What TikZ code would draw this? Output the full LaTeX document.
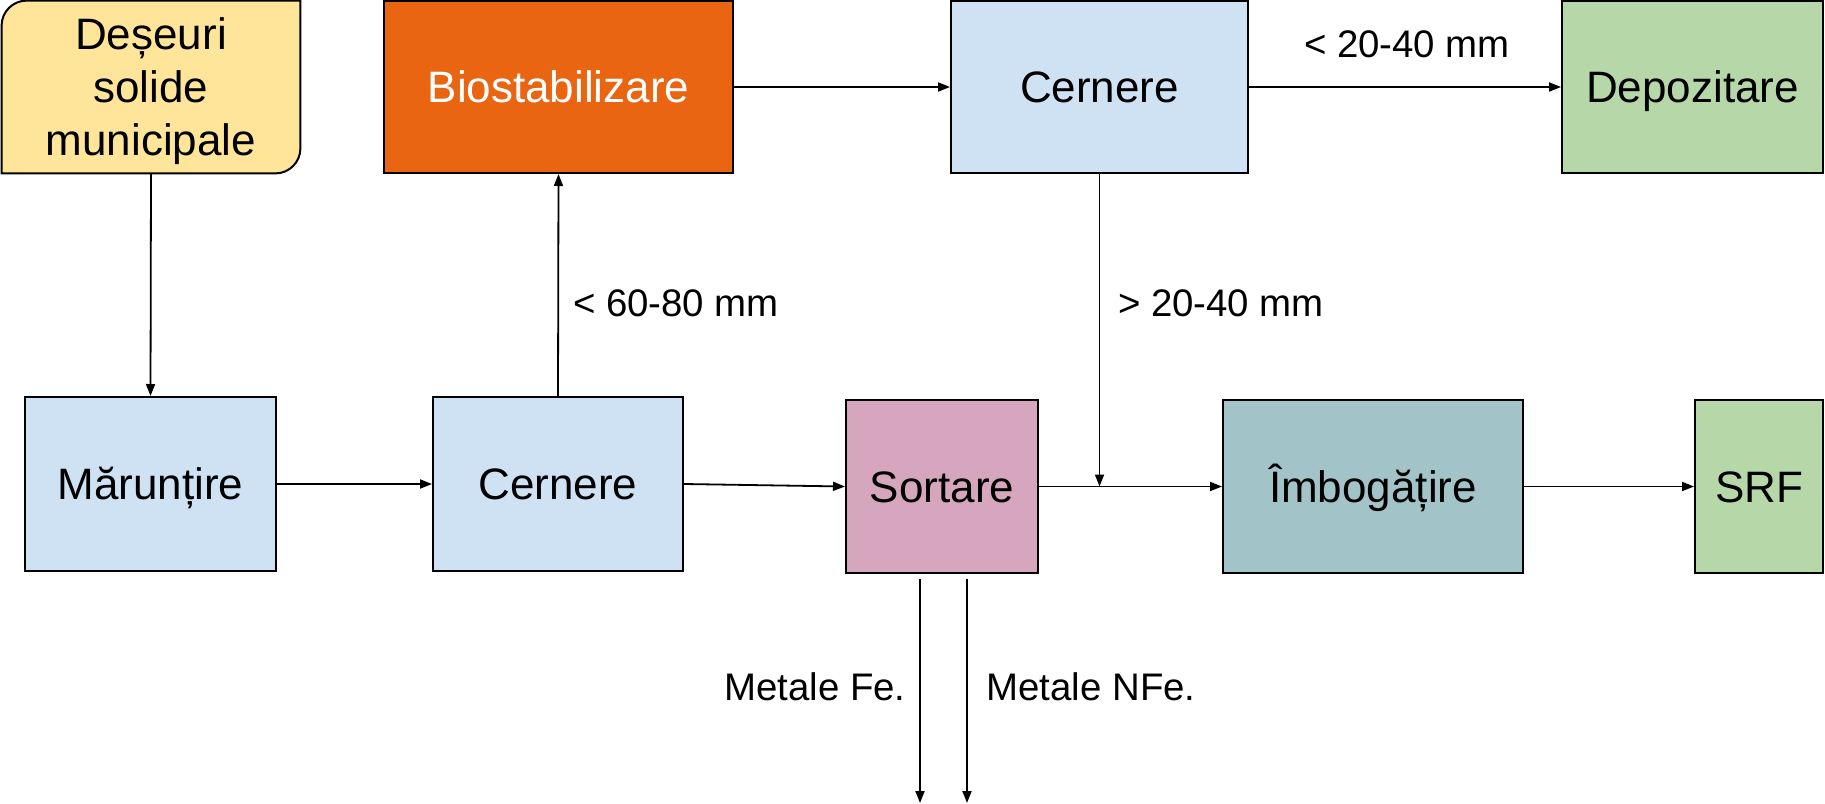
\documentclass[tikz,border=0pt]{standalone}
\usepackage{fontspec}
\setmainfont{Liberation Sans}
\usetikzlibrary{arrows.meta,backgrounds}
\definecolor{cyel}{HTML}{FFE599}
\definecolor{corg}{HTML}{E96511}
\definecolor{cblu}{HTML}{CFE2F3}
\definecolor{cgrn}{HTML}{B6D7A8}
\definecolor{cmag}{HTML}{D5A6BD}
\definecolor{ccya}{HTML}{A2C4C9}
\begin{document}
\begin{tikzpicture}[x=0.5pt,y=-0.5pt,
  box/.style={draw=black,line width=1pt,inner sep=0pt,text height=15.75pt,text depth=0pt,font=\fontsize{22}{26.5}\selectfont},
  lbl/.style={inner sep=0pt,font=\fontsize{19.2}{23}\selectfont},
  conn/.style={line width=0.9pt,-{Triangle[length=6pt,width=4.5pt]}},
]
\useasboundingbox (0,0) rectangle (1825,803);
% nodes
\node[inner sep=0pt,minimum width=149pt,minimum height=86pt,align=center,text depth=0pt,font=\fontsize{22}{26.5}\selectfont] (des) at (151,87) {Deșeuri\\solide\\municipale};
\begin{scope}[on background layer]
\draw[line width=1pt,fill=cyel] (des.north east) -- ([yshift=12.5pt]des.south east) arc[start angle=0,end angle=-90,radius=12.5pt] -- (des.south west) -- ([yshift=-12.5pt]des.north west) arc[start angle=180,end angle=90,radius=12.5pt] -- cycle;
\end{scope}
\node[box,fill=corg,text=white,minimum width=174.5pt,minimum height=86pt] (bio) at (558.5,87) {Biostabilizare};
\node[box,fill=cblu,minimum width=148.5pt,minimum height=86pt] (cer1) at (1099.5,87) {Cernere};
\node[box,fill=cgrn,minimum width=130.5pt,minimum height=86pt] (dep) at (1692.5,87) {Depozitare};
\node[box,fill=cblu,minimum width=125.5pt,minimum height=87pt] (mar) at (150.5,484) {Mărunțire};
\node[box,fill=cblu,minimum width=125pt,minimum height=87pt] (cer2) at (558,484) {Cernere};
\node[box,fill=cmag,minimum width=96pt,minimum height=86.5pt] (sor) at (942,486.5) {Sortare};
\node[box,fill=ccya,minimum width=150pt,minimum height=86.5pt] (imb) at (1373,486.5) {Îmbogățire};
\node[box,fill=cgrn,minimum width=64pt,minimum height=86.5pt] (srf) at (1759,486.5) {SRF};
% labels
\node[lbl] (l1) at (1407,44) {< 20-40 mm};
\node[lbl] (l2) at (676,303) {< 60-80 mm};
\node[lbl] (l3) at (1221,303) {> 20-40 mm};
\node[lbl] (l4) at (815,687) {Metale Fe.};
\node[lbl] (l5) at (1091,687) {Metale NFe.};
% coordinates
\coordinate (j) at (cer1.south |- sor.east);
\coordinate (fes) at ([xshift=-11pt,yshift=-2.5pt]sor.south);
\coordinate (nfes) at ([xshift=12.5pt,yshift=-2.5pt]sor.south);
\coordinate (fee) at (fes |- 0,803);
\coordinate (nfee) at (nfes |- 0,803);
% connectors
\draw[conn] (des.south) -- (mar.north);
\draw[conn] (mar.east) -- (cer2.west);
\draw[conn] (cer2.north) -- (bio.south);
\draw[conn] (bio.east) -- (cer1.west);
\draw[conn] (cer1.east) -- (dep.west);
\draw[conn] (cer2.east) -- (sor.west);
\draw[conn] (sor.east) -- (imb.west);
\draw[conn] (cer1.south) -- (j);
\draw[conn] (imb.east) -- (srf.west);
\draw[conn] (fes) -- (fee);
\draw[conn] (nfes) -- (nfee);
\end{tikzpicture}
\end{document}
